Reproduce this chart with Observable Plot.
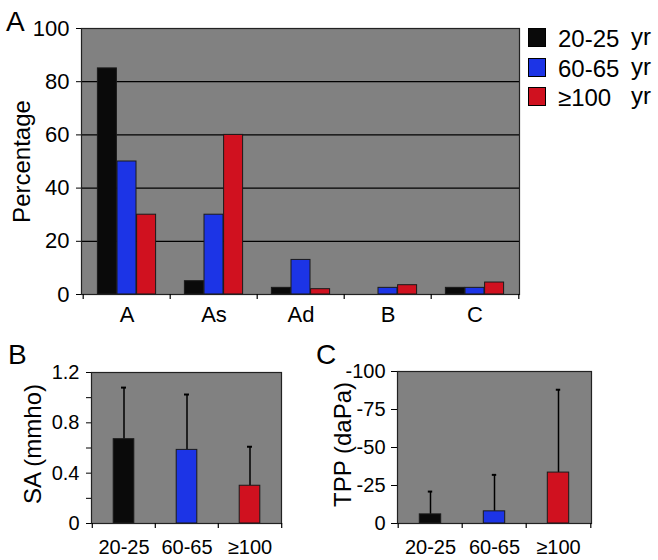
<!DOCTYPE html>
<html><head><meta charset="utf-8">
<script src="https://cdn.jsdelivr.net/npm/d3@7"></script>
<script src="https://cdn.jsdelivr.net/npm/@observablehq/plot@0.6"></script>
<style>
body{margin:0;background:#fff;}
#root{position:relative;width:658px;height:560px;font-family:"Liberation Sans",Arial,sans-serif;color:#000;overflow:hidden;background:#fff}
.abs{position:absolute}
.letter{position:absolute;font-size:28px;line-height:28px}
.row{position:absolute;left:528px;height:24px;font-size:24px;line-height:24px;white-space:pre}
.sw{position:absolute;left:0;top:1px;width:16px;height:17px;border:1.5px solid #000}
.lab{position:absolute;left:30px;top:0}
.yr{position:absolute;left:103px;top:-2px}
</style></head>
<body><div id="root"></div>
<script>
// ---- data ----
const categories = ["A", "As", "Ad", "B", "C"];
const series = ["20-25 yr", "60-65 yr", "≥100 yr"];
const pct2025 = [85, 5, 2.5, 0, 2.5];
const pct6065 = [50, 30, 13, 2.5, 2.5];
const pct100 = [30, 60, 2, 3.5, 4.5];

const ageLabels = ["20-25", "60-65", "≥100"];
const saMean = [0.67, 0.585, 0.30];
const saSD = [0.41, 0.44, 0.31];

const tppMean = [-6, -8, -33.5];
const tppSD = [15, 24, 54.5];

const colors = ["#0a0a0a", "#1c34e6", "#d0111f"];
const gray = "#818181";
const font = '"Liberation Sans", Arial, sans-serif';

const root = document.getElementById("root");
function place(el, left, top) {
  const d = document.createElement("div");
  d.className = "abs";
  d.style.left = left + "px";
  d.style.top = top + "px";
  d.appendChild(el);
  root.appendChild(d);
  return d;
}

// ---- Panel A ----
const valuesA = [pct2025, pct6065, pct100];
const rowsA = categories.flatMap((c, i) => series.map((s, j) => ({cat: c, series: s, value: valuesA[j][i]})));
const barW = 19.6;
const chartA = Plot.plot({
  width: 525, height: 330,
  marginLeft: 81, marginRight: 6, marginTop: 28, marginBottom: 36,
  style: {fontFamily: font, fontSize: "22px", color: "#000", background: "transparent", overflow: "visible"},
  x: {domain: categories, padding: 0, label: null, tickSize: 0, tickPadding: 12},
  y: {domain: [0, 100], ticks: [0, 20, 40, 60, 80, 100], tickSize: 5, tickPadding: 7, label: null},
  marks: [
    Plot.frame({fill: gray}),
    Plot.ruleY([20, 40, 60, 80], {stroke: "#000", strokeWidth: 1.2}),
    ...series.map((s, j) => Plot.barY(rowsA.filter(d => d.series === s && d.value > 0), {
      x: "cat", y: "value", fill: colors[j], stroke: "#1a1a1a", strokeWidth: 1,
      insetLeft: 34, insetRight: 34, dx: (j - 1) * barW
    })),
    Plot.frame({stroke: "#222", strokeWidth: 1.2}),
    Plot.ruleX(categories, {x: d => d, y1: 0, y2: -1.9, dx: -43.8, stroke: "#000", strokeWidth: 1.2}),
    Plot.ruleX([categories[categories.length - 1]], {x: d => d, y1: 0, y2: -1.9, dx: 43.8, stroke: "#000", strokeWidth: 1.2}),
    Plot.text(["Percentage"], {text: d => d, frameAnchor: "left", textAnchor: "middle", lineAnchor: "middle", dx: -59, rotate: -90, fontSize: 24})
  ]
});
place(chartA, 0, 0);

// ---- Panel B ----
const rowsB = ageLabels.map((a, i) => ({age: a, mean: saMean[i], upper: saMean[i] + saSD[i], color: colors[i]}));
const chartB = Plot.plot({
  width: 300, height: 230,
  marginLeft: 91, marginRight: 19, marginTop: 42, marginBottom: 37,
  style: {fontFamily: font, fontSize: "20px", color: "#000", background: "transparent", overflow: "visible"},
  x: {domain: ageLabels, padding: 0, label: null, tickSize: 0, tickPadding: 16},
  y: {domain: [0, 1.2], ticks: [0, 0.2, 0.4, 0.6, 0.8, 1.0, 1.2], tickSize: 5, tickPadding: 7, label: null,
      tickFormat: d => (Math.round(d * 10) % 4 === 0 ? (d === 0 ? "0" : d.toFixed(1)) : "")},
  marks: [
    Plot.frame({fill: gray}),
    Plot.ruleX(rowsB, {x: "age", y1: "mean", y2: "upper", stroke: "#000", strokeWidth: 1.5}),
    Plot.tickY(rowsB, {x: "age", y: "upper", stroke: "#000", strokeWidth: 2, insetLeft: 29, insetRight: 29}),
    Plot.barY(rowsB, {x: "age", y: "mean", fill: "color", stroke: "#1a1a1a", strokeWidth: 1, insetLeft: 21.2, insetRight: 21.2}),
    Plot.frame({stroke: "#222", strokeWidth: 1.2}),
    Plot.ruleX(ageLabels, {x: d => d, y1: 0, y2: -0.04, dx: -31.7, stroke: "#000", strokeWidth: 1.2}),
    Plot.ruleX([ageLabels[2]], {x: d => d, y1: 0, y2: -0.04, dx: 31.7, stroke: "#000", strokeWidth: 1.2}),
    Plot.text(["SA (mmho)"], {text: d => d, frameAnchor: "left", textAnchor: "middle", lineAnchor: "middle", dx: -58, dy: -4, rotate: -90, fontSize: 24})
  ]
});
place(chartB, 0, 330);

// ---- Panel C ----
const rowsC = ageLabels.map((a, i) => ({age: a, mean: tppMean[i], upper: tppMean[i] - tppSD[i], color: colors[i]}));
const chartC = Plot.plot({
  width: 358, height: 230,
  marginLeft: 97, marginRight: 67, marginTop: 41, marginBottom: 37,
  style: {fontFamily: font, fontSize: "20px", color: "#000", background: "transparent", overflow: "visible"},
  x: {domain: ageLabels, padding: 0, label: null, tickSize: 0, tickPadding: 16},
  y: {domain: [0, -100], ticks: [0, -25, -50, -75, -100], tickSize: 6, tickPadding: 6, label: null,
      tickFormat: d => String(d)},
  marks: [
    Plot.frame({fill: gray}),
    Plot.ruleX(rowsC, {x: "age", y1: "mean", y2: "upper", stroke: "#000", strokeWidth: 1.5}),
    Plot.tickY(rowsC, {x: "age", y: "upper", stroke: "#000", strokeWidth: 2, insetLeft: 29.8, insetRight: 29.8}),
    Plot.barY(rowsC, {x: "age", y: "mean", fill: "color", stroke: "#1a1a1a", strokeWidth: 1, insetLeft: 21.3, insetRight: 21.3}),
    Plot.frame({stroke: "#222", strokeWidth: 1.2}),
    Plot.ruleX(ageLabels, {x: d => d, y1: 0, y2: 3.3, dx: -32.3, stroke: "#000", strokeWidth: 1.2}),
    Plot.ruleX([ageLabels[2]], {x: d => d, y1: 0, y2: 3.3, dx: 32.3, stroke: "#000", strokeWidth: 1.2}),
    Plot.text(["TPP (daPa)"], {text: d => d, frameAnchor: "left", textAnchor: "middle", lineAnchor: "middle", dx: -54, dy: -3, rotate: -90, fontSize: 24})
  ]
});
place(chartC, 300, 330);

// ---- panel letters ----
[["A", 6, 8], ["B", 8, 341], ["C", 316, 341]].forEach(([t, l, tp]) => {
  const d = document.createElement("div");
  d.className = "letter";
  d.style.left = l + "px";
  d.style.top = tp + "px";
  d.textContent = t;
  root.appendChild(d);
});

// ---- legend ----
const legendLabels = ["20-25", "60-65", "≥100"];
series.forEach((s, i) => {
  const row = document.createElement("div");
  row.className = "row";
  row.style.top = (27 + i * 29.5) + "px";
  const sw = document.createElement("div");
  sw.className = "sw";
  sw.style.background = colors[i];
  const lab = document.createElement("span");
  lab.className = "lab";
  lab.textContent = legendLabels[i];
  const yr = document.createElement("span");
  yr.className = "yr";
  yr.textContent = "yr";
  row.append(sw, lab, yr);
  root.appendChild(row);
});
</script>
</body></html>
